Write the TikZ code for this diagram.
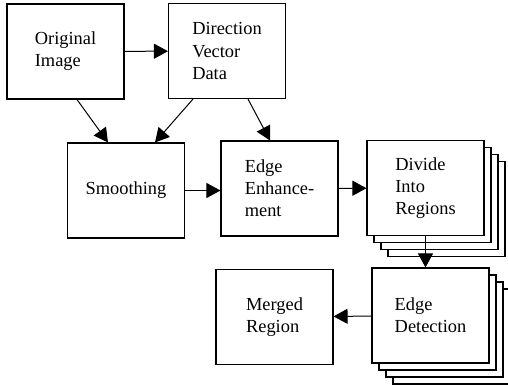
\documentclass[tikz,border=0pt]{standalone}
\usepackage{fontspec}
\setmainfont{Liberation Serif}
\usetikzlibrary{arrows.meta,shadows}

\tikzset{
  box/.style={draw, line width=1.1pt, fill=white, align=left,
    minimum width=117pt, minimum height=95pt, inner sep=0pt},
  stack/.style={box,
    copy shadow={shadow xshift=21pt, shadow yshift=-21pt},
    copy shadow={shadow xshift=14pt, shadow yshift=-14pt},
    copy shadow={shadow xshift=7pt, shadow yshift=-7pt}},
  flow/.style={->, line width=1pt}
}

\begin{document}
\begin{tikzpicture}[x=1pt, y=1pt, >={Triangle[length=14pt,width=15pt]},
    font=\rmfamily\fontsize{18.4}{22}\selectfont]
    \useasboundingbox (0,0) rectangle (508,-385);
    % top row
    \node[box] (orig) at (65.5,-51.5) {Original\\Image};
    \node[box] (dir) at (227,-51) {Direction\\Vector\\Data};
    % middle row
    \node[box] (smooth) at (126,-190.5) {Smoothing};
    \node[box] (enh) at (279.5,-188.5) {Edge\\Enhance-\\ment};
    \node[stack] (div) at (425.5,-188) {Divide\\Into\\Regions};
    % bottom row
    \node[stack] (det) at (430.5,-315.5) {Edge\\Detection};
    \node[box] (merged) at (274.5,-317) {Merged\\Region};
    % connectors
    \draw[flow] (orig) -- (dir);
    \draw[flow] ([xshift=11.5pt]orig.south) -- ([xshift=-18pt]smooth.north);
    \draw[flow] ([xshift=-34pt]dir.south) -- ([xshift=29pt]smooth.north);
    \draw[flow] ([xshift=21pt]dir.south) -- ([xshift=-9.5pt]enh.north);
    \draw[flow] (smooth.east) -- (smooth.east -| enh.west);
    \draw[flow] (enh) -- (div);
    \draw[flow] (div.south) -- (div.south |- det.north);
    \draw[flow] (det) -- (merged);
\end{tikzpicture}
\end{document}
